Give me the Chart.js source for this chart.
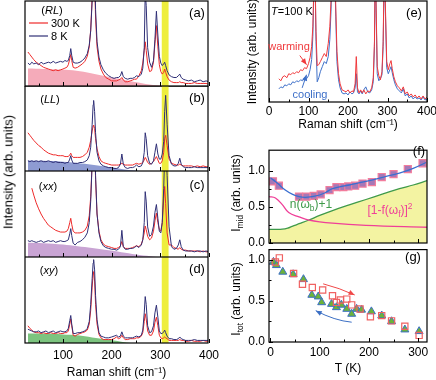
<!DOCTYPE html>
<html><head><meta charset="utf-8">
<script src="https://cdn.jsdelivr.net/npm/chart.js@4.4.0/dist/chart.umd.min.js"></script>
<style>
html,body{margin:0;padding:0;background:#fff;}
body{width:436px;height:380px;position:relative;overflow:hidden;font-family:"Liberation Sans",Arial,sans-serif;}
canvas{position:absolute;}
#ylab{position:absolute;left:8px;top:172px;transform:translate(-50%,-50%) rotate(-90deg);white-space:nowrap;font-size:13px;color:#000;}
</style></head><body>
<canvas id="ca" width="222" height="87" style="left:0;top:0"></canvas>
<canvas id="cb" width="222" height="85" style="left:0;top:86px"></canvas>
<canvas id="cc" width="222" height="86" style="left:0;top:171px"></canvas>
<canvas id="cd" width="222" height="123" style="left:0;top:257px"></canvas>
<canvas id="ce" width="214" height="132" style="left:222px;top:0"></canvas>
<canvas id="cg" width="214" height="136" style="left:222px;top:244px"></canvas>
<canvas id="cf" width="214" height="110" style="left:222px;top:144px"></canvas>
<div id="ylab">Intensity (arb. units)</div>
<script>
// ---------------- DATA ----------------
const ramanShift = [28,32,36,40,45,50,55,60,65,70,75,80,85,90,95,100,104,108,111,114,116,118,121,125,130,135,140,145,150,154,157,160,162,163,165,167,170,174,178,183,188,194,200,205,210,214,218,221,224,228,233,238,243,247,251,256,261,264,267,269,271,274,278,282,286,289,292,295,298,301,304,307,309,311,314,318,323,328,333,337,340,343,347,352,358,364,370,376,382,388,394,400];
const aRed300K = [40,37,34,31,28,26,24,22,21,20, 19,18,19,18,19,20,21,22,25,32, 37,30,22,21,22,24,26,29,35,46, 66,105,140,150,125,80,46,29,20,14, 10,8,6,6,6,7,8,10,7,5, 5,6,7,8,8,12,18,27,42,52, 42,26,17,18,28,50,71,46,25,17, 14,16,20,16,11,7,5,4,4,4, 5,4,4,3,3,3,4,3,3,3,3,2];
const aBlue8K = [27,25,28,26,27,25,28,26,27,28, 27,29,27,28,29,28,30,29,30,36, 44,36,28,27,27,28,30,33,38,48, 65,100,150,170,140,90,52,34,25,19, 15,12,10,9,10,10,12,17,11,9, 8,9,9,10,12,11,14,21,45,110, 95,45,28,22,30,55,88,60,35,27, 24,26,28,24,18,13,11,10,10,12, 14,10,8,7,6,7,5,6,7,5,6,5];
const bRed300K = [45,42,39,36,33,30,28,25,23,21, 20,19,19,18,18,18,17,17,17,19, 21,18,16,16,16,16,17,19,22,28, 36,47,53,54,50,38,26,17,12,10, 9,8,7,7,7,7,8,9,8,7, 7,7,7,8,9,8,9,10,13,16, 14,10,8,9,11,14,17,13,9,9, 12,22,38,42,30,14,9,8,7,7, 8,7,6,6,6,6,5,6,5,6,5,5];
const bBlue8K = [12,11,12,11,12,11,12,11,11,12, 11,10,11,10,10,10,9,10,10,14, 18,13,9,9,9,10,10,11,13,18, 28,55,78,83,70,45,22,12,8,6, 5,4,4,3,3,4,8,20,8,4, 3,4,4,5,7,5,6,10,22,45, 38,18,9,8,12,22,32,20,14,14, 20,35,70,89,55,18,8,6,6,9, 15,8,5,4,4,4,5,4,4,4,4,4];
const cRed300K = [null,null,80,72,63,56,50,45,41,37, 35,33,31,30,29,29,29,30,33,40, 45,38,30,28,28,28,29,31,36,48, 70,110,150,160,140,90,50,30,20,15, 13,12,11,10,10,11,13,18,12,10, 10,10,11,12,13,12,15,20,28,36, 32,24,20,22,30,42,51,40,32,30, 40,68,82,62,28,14,14,11,10,9, 11,9,8,8,7,7,7,7,6,7,6,6];
const cBlue8K = [19,18,19,18,17,18,19,17,18,19, 18,19,17,18,19,18,18,19,20,27, 33,25,16,14,17,18,20,23,28,40, 65,110,160,175,150,95,50,28,18,13, 11,10,9,9,8,9,12,31,12,9, 9,10,10,11,13,11,14,20,40,76, 65,35,24,26,36,52,61,45,30,28, 40,80,120,130,95,35,12,9,10,14, 20,12,8,7,7,7,6,7,7,6,7,6];
const dRed300K = [20,17,15,13,12,12,11,12,11,11, 12,11,11,12,11,11,12,12,14,22, 28,20,9,8,10,11,12,13,15,22, 38,65,80,83,72,45,22,10,6,4, 4,4,4,5,7,5,6,9,6,4, 4,5,5,5,6,6,8,12,25,34, 28,14,9,9,14,24,30,20,9,6, 5,6,7,6,5,3,3,3,3,3, 4,3,3,2,2,3,2,2,2,3,2,2];
const dBlue8K = [16,15,14,13,13,14,12,13,14,12, 13,14,12,13,14,13,13,14,17,26, 32,22,11,11,12,12,13,14,17,25, 45,75,93,97,85,55,27,12,8,7, 6,6,7,8,9,7,8,13,8,6, 6,6,6,7,8,7,9,15,35,54, 45,20,12,13,20,35,44,30,14,11, 11,13,15,12,8,5,5,4,4,5, 7,5,4,3,3,3,4,3,3,3,3,3];
const aBgX = [28,60,90,120,150,180,210,240,270,300,306];
const aBg  = [20.5,20,19.5,18.5,16,12.5,9,5.5,2.5,0.5,0];
const bBgX = [28,60,100,130,160,190,220,250,258];
const bBg  = [12.5,12,11,9.5,7.5,5,2.5,0.5,0];
const cBgX = [28,60,100,130,160,190,220,250,280,296];
const cBg  = [16.5,16,14.5,12.5,10.5,8,5.5,3,1,0];
const dBgX = [28,60,100,130,160,190,220,240];
const dBg  = [11,11,10,9,6.5,4,1.5,0];
const highlightBand = [303, 317];
const ramanTicks = [100,200,300,400];
const ramanMinor = [50,150,250,350];

const eShift = [25,30,35,40,45,50,55,60,65,70,75,80,85,90,95,100,104,108,111,113,116,119,122,126,130,135,140,145,150,154,157,160,163,166,169,172,176,180,185,190,195,200,205,210,214,218,221,224,228,232,236,240,245,250,255,260,264,267,269,271,274,278,282,286,289,292,295,298,302,306,309,312,316,320,325,330,335,340,345,350,355,360,365,370,375,380,385,390,395,400];
const eWarming = [23,21,25,26,24,28,27,29,28,30, 29,32,31,34,33,38,44,55,75,105, 140,70,36,37,40,44,48,45,58,75, 100,140,160,140,95,50,28,18,12,11, 10,12,9,11,10,18,45,14,9,12, 9,12,8,11,10,14,24,60,140,100, 35,26,22,30,60,140,90,40,32,38, 41,33,25,20,16,14,11,15,8,10, 6,8,5,7,4,6,3,6,3,5];
const eCooling = [13,15,14,17,16,18,17,20,19,21, 20,22,21,24,23,26,32,42,65,100, 140,60,20,24,30,35,40,38,45,62, 90,135,160,135,85,40,22,14,9,8, 9,7,10,8,9,14,28,10,8,11, 8,12,15,10,9,12,20,55,135,95, 28,21,23,27,55,135,85,34,28,32, 35,29,22,17,13,11,9,13,6,8, 4,6,3,5,3,4,2,5,2,3];
const eTicks = [0,100,200,300,400];
const eMinor = [50,150,250,350];

const fT   = [5,17,58,73,88,102,120,134,148,158,172,187,206,226,250,279,309];
const fMid = [0.85,0.79,0.64,0.64,0.65,0.67,0.73,0.77,0.77,0.78,0.79,0.82,0.84,0.91,0.95,1.02,1.10];
const fFitT = [0,15,30,45,58,71,90,110,126,160,194,230,262,290,316];
const fFit  = [0.90,0.82,0.73,0.67,0.64,0.63,0.645,0.69,0.75,0.80,0.85,0.91,0.965,1.03,1.11];
const fBoseT = [-3,10,24,35,44,60,78,100,126,160,194,230,262,290,318];
const fBose  = [0.187,0.187,0.19,0.205,0.23,0.27,0.317,0.38,0.447,0.525,0.60,0.68,0.75,0.80,0.86];
const fFermiT = [-3,10,24,37,58,78,126,194,318];
const fFermi  = [0.64,0.62,0.53,0.42,0.36,0.317,0.274,0.243,0.217];
const gTriT = [6,12,25,46,67,84,97,104,124,134,144,155,165,175,185,205,226,246,273,302];
const gTri  = [0.97,0.93,0.85,0.82,0.76,0.57,0.55,0.48,0.46,0.42,0.45,0.40,0.34,0.40,0.39,0.37,0.32,0.25,0.15,0.13];
const gSqT = [10,18,47,65,85,106,126,134,142,155,165,182,203,226,246,273,302];
const gSq  = [0.97,1.02,0.83,0.70,0.66,0.63,0.56,0.48,0.51,0.52,0.45,0.40,0.305,0.32,0.256,0.19,0.08];
const tTicks = [0,100,200,300];
const tMinor = [50,150,250];
const iTicks = [0,0.5,1.0];
const iMinor = [0.25,0.75];

// ---------------- HELPERS ----------------
const FONT = "'Liberation Sans', Arial, sans-serif";
Chart.defaults.font.family = FONT;
Chart.defaults.color = '#000';
const RED = '#ee2a2a', NAVY = '#2f2f76';
const pts = (xs, ys) => xs.map((x, i) => ({x: x, y: ys[i]}));

function drawRich(ctx, parts, x, y, size, color, align) {
  const f = m => ((m.indexOf('i') >= 0) ? 'italic ' : '') + ((m.indexOf('sub') >= 0 || m.indexOf('sup') >= 0) ? size * 0.7 : size) + 'px ' + FONT;
  let w = 0;
  parts.forEach(p => { ctx.font = f(p[1] || ''); w += ctx.measureText(p[0]).width; });
  let cx = align === 'left' ? x : (align === 'right' ? x - w : x - w / 2);
  ctx.fillStyle = color; ctx.textBaseline = 'middle'; ctx.textAlign = 'left';
  parts.forEach(p => {
    const m = p[1] || '';
    ctx.font = f(m);
    const dy = m.indexOf('sub') >= 0 ? size * 0.32 : (m.indexOf('sup') >= 0 ? -size * 0.38 : 0);
    ctx.fillText(p[0], cx, y + dy);
    cx += ctx.measureText(p[0]).width;
  });
}

function makeDeco(cfg) {
  return {
    id: 'deco',
    beforeDatasetsDraw(chart) {
      if (!cfg.band) return;
      const {ctx, chartArea: a, scales: {x}} = chart;
      const x1 = x.getPixelForValue(cfg.band[0]), x2 = x.getPixelForValue(cfg.band[1]);
      ctx.save(); ctx.fillStyle = 'rgba(236,236,40,0.9)';
      ctx.fillRect(x1, a.top, x2 - x1, a.bottom - a.top); ctx.restore();
    },
    afterDatasetsDraw(chart) {
      const {ctx, chartArea: a, scales: {x, y}} = chart;
      ctx.save();
      ctx.strokeStyle = '#000'; ctx.lineWidth = 1.2;
      ctx.strokeRect(a.left, a.top, a.right - a.left, a.bottom - a.top);
      ctx.lineWidth = 1;
      const seg = (x1, y1, x2, y2) => { ctx.beginPath(); ctx.moveTo(x1, y1); ctx.lineTo(x2, y2); ctx.stroke(); };
      (cfg.xMajor || []).forEach(v => { const p = Math.round(x.getPixelForValue(v)) + 0.5; seg(p, a.bottom, p, a.bottom - 4); });
      (cfg.xMinor || []).forEach(v => { const p = Math.round(x.getPixelForValue(v)) + 0.5; seg(p, a.bottom, p, a.bottom - 2.5); });
      (cfg.yMajor || []).forEach(v => { const p = Math.round(y.getPixelForValue(v)) + 0.5; seg(a.left, p, a.left + 4, p); });
      (cfg.yMinor || []).forEach(v => { const p = Math.round(y.getPixelForValue(v)) + 0.5; seg(a.left, p, a.left + 2.5, p); });
      (cfg.arrows || []).forEach(ar => {
        const P = q => [x.getPixelForValue(q[0]), y.getPixelForValue(q[1])];
        const s = P(ar.from), e = P(ar.to), c = ar.ctrl ? P(ar.ctrl) : null;
        ctx.strokeStyle = ar.color; ctx.fillStyle = ar.color; ctx.lineWidth = 1;
        ctx.beginPath(); ctx.moveTo(s[0], s[1]);
        if (c) ctx.quadraticCurveTo(c[0], c[1], e[0], e[1]); else ctx.lineTo(e[0], e[1]);
        ctx.stroke();
        const r = c || s; const ang = Math.atan2(e[1] - r[1], e[0] - r[0]);
        const L = 6, W = 2.6;
        ctx.beginPath(); ctx.moveTo(e[0], e[1]);
        ctx.lineTo(e[0] - L * Math.cos(ang) + W * Math.sin(ang), e[1] - L * Math.sin(ang) - W * Math.cos(ang));
        ctx.lineTo(e[0] - L * Math.cos(ang) - W * Math.sin(ang), e[1] - L * Math.sin(ang) + W * Math.cos(ang));
        ctx.closePath(); ctx.fill();
      });
      (cfg.lines || []).forEach(l => {
        ctx.strokeStyle = l.color; ctx.lineWidth = 1.2;
        seg(l.x1 - cfg.ox, l.y - cfg.oy, l.x2 - cfg.ox, l.y - cfg.oy);
      });
      (cfg.texts || []).forEach(t => {
        const px = t.x - cfg.ox, py = t.y - cfg.oy;
        if (t.rot) {
          ctx.save(); ctx.translate(px, py); ctx.rotate(-Math.PI / 2);
          drawRich(ctx, t.p, 0, 0, t.size, t.color || '#000', 'center');
          ctx.restore();
        } else {
          drawRich(ctx, t.p, px, py, t.size, t.color || '#000', t.align || 'center');
        }
      });
      ctx.restore();
    }
  };
}

const noAxis = {display: false};
function xAxisHidden(min, max) { return {type: 'linear', min: min, max: max, display: false}; }

function leftPanel(id, oy, redY, blueY, bgX, bgY, bgColor, pad, showX, deco) {
  const xs = showX ? {
    type: 'linear', min: 22, max: 398, position: 'bottom',
    grid: {display: false, drawTicks: false, tickLength: 0}, border: {display: false},
    afterBuildTicks: s => { s.ticks = ramanTicks.map(v => ({value: v})); },
    ticks: {padding: 5, font: {size: 12}, color: '#000', maxRotation: 0, autoSkip: false},
    title: {display: true, text: 'Raman shift (cm⁻¹)', font: {size: 12}, color: '#000', padding: 0},
    afterFit: s => { s.height = 37; s.paddingLeft = 0; s.paddingRight = 0; }
  } : xAxisHidden(22, 398);
  deco.ox = 0; deco.oy = oy; deco.band = highlightBand; deco.xMajor = ramanTicks; deco.xMinor = ramanMinor;
  return new Chart(document.getElementById(id), {
    type: 'line',
    data: {datasets: [
      {data: pts(ramanShift, blueY), borderColor: NAVY, borderWidth: 1, pointRadius: 0, order: 0},
      {data: pts(ramanShift, redY), borderColor: RED, borderWidth: 1, pointRadius: 0, order: 1},
      {data: pts(bgX, bgY), borderWidth: 0, borderColor: 'rgba(0,0,0,0)', backgroundColor: bgColor, fill: 'origin', pointRadius: 0, tension: 0.35, order: 2}
    ]},
    options: {
      responsive: false, animation: false, events: [],
      layout: {padding: {left: 25, right: 14, top: pad[0], bottom: pad[1]}},
      plugins: {legend: {display: false}, tooltip: {enabled: false}},
      scales: {x: xs, y: {min: 0, max: 100, display: false}}
    },
    plugins: [makeDeco(deco)]
  });
}

leftPanel('ca', 0, aRed300K, aBlue8K, aBgX, aBg, '#f5abba', [1, 1], false, {
  lines: [{x1: 29, x2: 48, y: 23, color: RED}, {x1: 29, x2: 48, y: 36, color: NAVY}],
  texts: [
    {p: [['(', ''], ['RL', 'i'], [')', '']], x: 52, y: 11, size: 11},
    {p: [['300 K', '']], x: 51, y: 23.5, size: 11, align: 'left'},
    {p: [['8 K', '']], x: 51, y: 36.5, size: 11, align: 'left'},
    {p: [['(a)', '']], x: 197, y: 13, size: 13}
  ]
});
leftPanel('cb', 86, bRed300K, bBlue8K, bBgX, bBg, '#8e9bd2', [0, 0], false, {
  texts: [
    {p: [['(', ''], ['LL', 'i'], [')', '']], x: 50, y: 100, size: 11},
    {p: [['(b)', '']], x: 197, y: 98, size: 13}
  ]
});
leftPanel('cc', 171, cRed300K, cBlue8K, cBgX, cBg, '#c9a4d4', [0, 0], false, {
  texts: [
    {p: [['(', ''], ['xx', 'i'], [')', '']], x: 48, y: 187, size: 11},
    {p: [['(c)', '']], x: 197, y: 185, size: 13}
  ]
});
leftPanel('cd', 257, dRed300K, dBlue8K, dBgX, dBg, '#7cc47f', [0, 0], true, {
  texts: [
    {p: [['(', ''], ['xy', 'i'], [')', '']], x: 49, y: 271, size: 11},
    {p: [['(d)', '']], x: 197, y: 269, size: 13}
  ]
});

// panel (e)
new Chart(document.getElementById('ce'), {
  type: 'line',
  data: {datasets: [
    {data: pts(eShift, eWarming), borderColor: '#f0393c', borderWidth: 1, pointRadius: 0, order: 0},
    {data: pts(eShift, eCooling), borderColor: '#3d6fc8', borderWidth: 1, pointRadius: 0, order: 1}
  ]},
  options: {
    responsive: false, animation: false, events: [],
    layout: {padding: {left: 23, right: 9, top: 1, bottom: 0}},
    plugins: {legend: {display: false}, tooltip: {enabled: false}},
    scales: {
      x: {type: 'linear', min: 0, max: 400, grid: {display: false, drawTicks: false, tickLength: 0}, border: {display: false},
          afterBuildTicks: s => { s.ticks = eTicks.map(v => ({value: v})); },
          ticks: {padding: 2, font: {size: 12}, color: '#000', maxRotation: 0, autoSkip: false},
          title: {display: true, text: 'Raman shift (cm⁻¹)', font: {size: 12}, color: '#000', padding: 0},
          afterFit: s => { s.height = 30; s.paddingLeft = 0; s.paddingRight = 0; }},
      y: {min: 0, max: 100, grid: {display: false, drawTicks: false, tickLength: 0}, border: {display: false},
          ticks: {display: false},
          title: {display: true, text: 'Intensity (arb. units)', font: {size: 12}, color: '#000', padding: 0},
          afterFit: s => { s.width = 24; s.paddingTop = 0; s.paddingBottom = 0; }}
    }
  },
  plugins: [makeDeco({ox: 222, oy: 0, xMajor: eTicks, xMinor: eMinor,
    arrows: [{from: [78, 46], to: [95, 37], color: '#f0393c'}, {from: [84, 14], to: [95, 27], color: '#3d6fc8'}],
    texts: [
      {p: [['T', 'i'], ['=100 K', '']], x: 292, y: 12, size: 11},
      {p: [['(e)', '']], x: 414, y: 13, size: 13},
      {p: [['warming', '']], x: 289, y: 47, size: 11, color: '#f0393c'},
      {p: [['cooling', '']], x: 310, y: 95, size: 11, color: '#3d6fc8'}
    ]})]
});

function yAxisI(max) {
  return {min: 0, max: max, grid: {display: false, drawTicks: false, tickLength: 0}, border: {display: false},
    afterBuildTicks: s => { s.ticks = iTicks.map(v => ({value: v})); },
    ticks: {padding: 4, font: {size: 12}, color: '#000', callback: v => Number(v).toFixed(1)},
    afterFit: s => { s.width = 47; s.paddingTop = 0; s.paddingBottom = 0; }};
}

// panel (f)
new Chart(document.getElementById('cf'), {
  type: 'line',
  data: {datasets: [
    {data: pts(fFitT, fFit), borderColor: '#3a6fd0', borderWidth: 1.3, pointRadius: 0, tension: 0.4, order: 0},
    {data: pts(fT, fMid), showLine: false, pointStyle: 'rect', pointRadius: 5, backgroundColor: '#a678b6', borderColor: '#f27c9c', borderWidth: 1.2, order: 1},
    {data: pts(fFermiT, fFermi), borderColor: '#ef3f98', borderWidth: 1.3, pointRadius: 0, tension: 0.4, order: 2},
    {data: pts(fBoseT, fBose), borderColor: '#3f9a4a', borderWidth: 1.3, backgroundColor: '#f3f3a2', fill: 'origin', pointRadius: 0, tension: 0.4, order: 3}
  ]},
  options: {
    responsive: false, animation: false, events: [],
    layout: {padding: {left: 0, right: 9, top: 0, bottom: 11}},
    plugins: {legend: {display: false}, tooltip: {enabled: false}},
    scales: {x: xAxisHidden(-3, 318), y: yAxisI(1.28)}
  },
  plugins: [makeDeco({ox: 222, oy: 144, xMajor: tTicks, xMinor: tMinor, yMajor: iTicks, yMinor: iMinor,
    texts: [
      {p: [['I', ''], ['mid', 'sub'], [' (arb. units)', '']], x: 237, y: 193, size: 12, rot: true},
      {p: [['(f)', '']], x: 419, y: 151, size: 13},
      {p: [['n(ω', ''], ['b', 'sub'], [')+1', '']], x: 311, y: 205, size: 12, color: '#3f9a4a'},
      {p: [['[1-f(ω', ''], ['f', 'sub'], [')]', ''], ['2', 'sup']], x: 390, y: 211, size: 12, color: '#ef3f98'}
    ]})]
});

// panel (g)
new Chart(document.getElementById('cg'), {
  type: 'line',
  data: {datasets: [
    {data: pts(gSqT, gSq), showLine: false, pointStyle: 'rect', pointRadius: 4.4, backgroundColor: 'rgba(0,0,0,0)', borderColor: '#f06262', borderWidth: 1.2, order: 0},
    {data: pts(gTriT, gTri), showLine: false, pointStyle: 'triangle', pointRadius: 4.6, backgroundColor: '#6cb23a', borderColor: '#3b6fc4', borderWidth: 1, order: 1}
  ]},
  options: {
    responsive: false, animation: false, events: [],
    layout: {padding: {left: 0, right: 9, top: 0, bottom: 0}},
    plugins: {legend: {display: false}, tooltip: {enabled: false}},
    scales: {
      x: {type: 'linear', min: -3, max: 318, grid: {display: false, drawTicks: false, tickLength: 0}, border: {display: false},
          afterBuildTicks: s => { s.ticks = tTicks.map(v => ({value: v})); },
          ticks: {padding: 3, font: {size: 12}, color: '#000', maxRotation: 0, autoSkip: false},
          title: {display: true, text: 'T (K)', font: {size: 12}, color: '#000', padding: {top: 0, bottom: 4}},
          afterFit: s => { s.height = 38; s.paddingLeft = 0; s.paddingRight = 0; }},
      y: yAxisI(1.12)
    }
  },
  plugins: [makeDeco({ox: 222, oy: 244, xMajor: tTicks, xMinor: tMinor, yMajor: iTicks, yMinor: iMinor,
    arrows: [{from: [107, 0.705], to: [171, 0.57], ctrl: [140, 0.655], color: '#f04848'},
             {from: [165, 0.24], to: [92, 0.38], ctrl: [130, 0.26], color: '#3b6fc4'}],
    texts: [
      {p: [['I', ''], ['tot', 'sub'], [' (arb. units)', '']], x: 237, y: 299, size: 12, rot: true},
      {p: [['(g)', '']], x: 413, y: 257, size: 13}
    ]})]
});
</script>
</body></html>
